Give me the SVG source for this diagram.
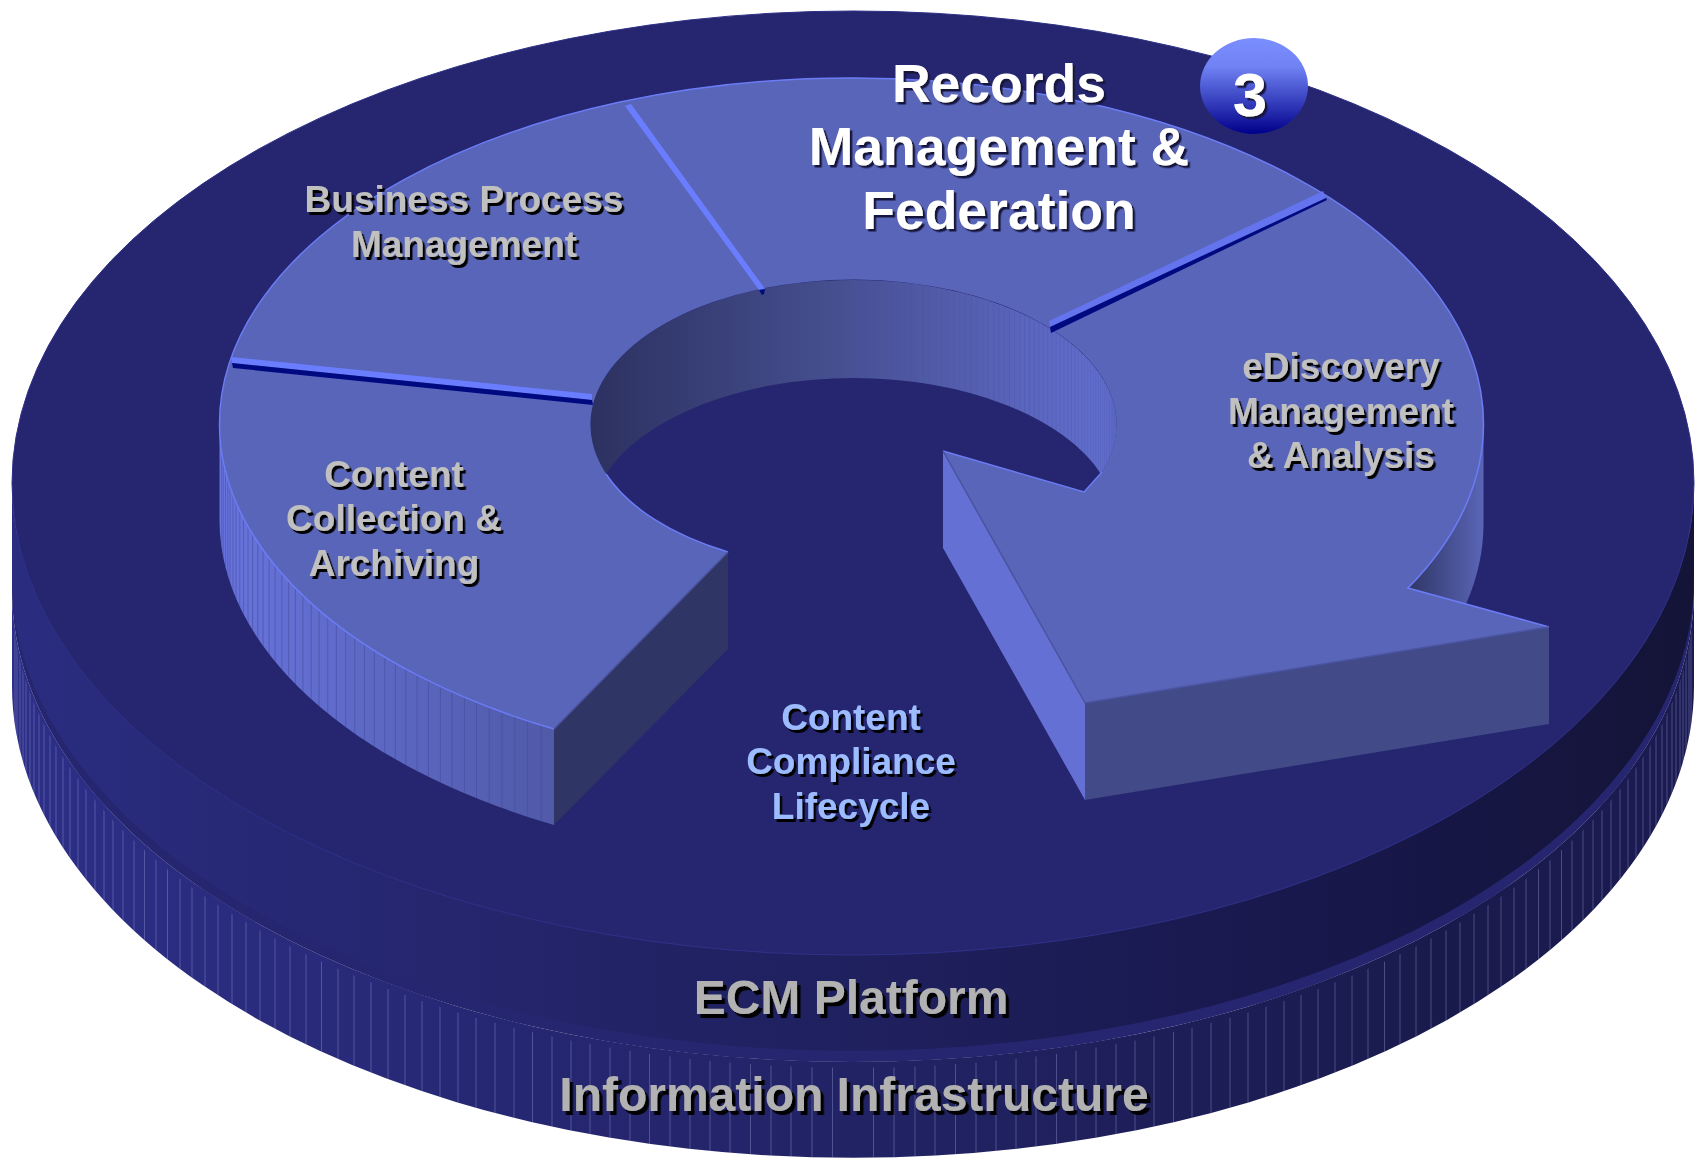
<svg xmlns="http://www.w3.org/2000/svg" xmlns:xlink="http://www.w3.org/1999/xlink" width="1704" height="1158" viewBox="0 0 1704 1158">
<style>
text{font-family:"Liberation Sans",Arial,sans-serif;font-weight:700;text-anchor:middle}
.g{fill:#c0c0c0;font-size:37px;filter:url(#sh)}
.b{fill:#9dbcff;font-size:37px;filter:url(#sh)}
.w{fill:#fff;font-size:53.500px;filter:url(#shw)}
.p{fill:#b2b2b2;font-size:48px;filter:url(#shb)}
.face{fill:#5965b8}
.tick{fill:none;stroke-width:1;vector-effect:non-scaling-stroke}
</style>
<defs>
<filter id="sh" x="-10%" y="-20%" width="120%" height="140%"><feDropShadow dx="2.5" dy="3" stdDeviation="0.5" flood-color="#000"/></filter>
<filter id="shw" x="-10%" y="-20%" width="120%" height="140%"><feDropShadow dx="2.5" dy="2.5" stdDeviation="0.6" flood-color="#14163c"/></filter>
<filter id="shb" x="-10%" y="-20%" width="120%" height="140%"><feDropShadow dx="3.5" dy="4" stdDeviation="0.5" flood-color="#000"/></filter>
<linearGradient id="lowerSide" gradientUnits="userSpaceOnUse" x1="12" y1="0" x2="1694" y2="0"><stop offset="0" stop-color="#2d2f88"/><stop offset=".3" stop-color="#262772"/><stop offset=".55" stop-color="#212262"/><stop offset=".85" stop-color="#191a4c"/><stop offset="1" stop-color="#1b1b52"/></linearGradient>
<linearGradient id="upperSide" gradientUnits="userSpaceOnUse" x1="12" y1="0" x2="1694" y2="0"><stop offset="0" stop-color="#2a2c80"/><stop offset=".25" stop-color="#25266e"/><stop offset=".5" stop-color="#1f205e"/><stop offset=".8" stop-color="#17174a"/><stop offset="1" stop-color="#141438"/></linearGradient>
<linearGradient id="holeWall" gradientUnits="userSpaceOnUse" x1="590" y1="0" x2="1116" y2="0"><stop offset="0" stop-color="#2c3160"/><stop offset=".45" stop-color="#454e8e"/><stop offset="1" stop-color="#6470d2"/></linearGradient>
<linearGradient id="leftWall" gradientUnits="userSpaceOnUse" x1="219" y1="0" x2="554" y2="0"><stop offset="0" stop-color="#6874dc"/><stop offset="1" stop-color="#505aa8"/></linearGradient>
<linearGradient id="rightWall" gradientUnits="userSpaceOnUse" x1="1408" y1="0" x2="1483" y2="0"><stop offset="0" stop-color="#2f3666"/><stop offset="1" stop-color="#5a65b6"/></linearGradient>
<linearGradient id="badge" x1="0" y1="0" x2="0" y2="1"><stop offset="0" stop-color="#7b8eff"/><stop offset=".3" stop-color="#7082f4"/><stop offset="1" stop-color="#00008a"/></linearGradient>
<clipPath id="lowerClip"><path d="M12 596A841 472 0 0 0 1694 596V686A841 472 0 0 1 12 686Z"/></clipPath>
<clipPath id="leftWallClip"><path d="M219.500 424A632 346 0 0 0 554 729V825A632 346 0 0 1 219.500 520Z"/></clipPath>
<clipPath id="holeClip"><path d="M606 474A263 145 0 1 1 1101 474A263 145 0 0 0 606 474Z"/></clipPath>
<path id="ticks" d="M20.5 0V1158M41 0V1158M62 0V1158M82 0V1158M102.5 0V1158M123 0V1158M143 0V1158M163 0V1158M183 0V1158M203.5 0V1158M223 0V1158M243 0V1158M263 0V1158M282 0V1158M301 0V1158M320.5 0V1158M339 0V1158M358 0V1158M377 0V1158M395 0V1158M413 0V1158M431 0V1158M448 0V1158M465 0V1158M482 0V1158M499 0V1158M515 0V1158M531.5 0V1158M547 0V1158M563 0V1158M578 0V1158M593 0V1158M607 0V1158M621 0V1158M635 0V1158M648 0V1158M661 0V1158M673 0V1158M685.5 0V1158M697 0V1158M708.5 0V1158M719 0V1158M730 0V1158M740 0V1158M749 0V1158M758 0V1158M767 0V1158M775 0V1158M783 0V1158M790 0V1158M797 0V1158M803 0V1158M809 0V1158M814 0V1158M819 0V1158M823 0V1158M827 0V1158M830 0V1158M833 0V1158M836 0V1158M838 0V1158"/>
</defs>

<g id="infrastructure-disc">
<path d="M12 590A841 472 0 0 0 1694 590V686A841 472 0 0 1 12 686Z" fill="url(#lowerSide)"/>
<g clip-path="url(#lowerClip)" class="tick" stroke="#9a9dd6" stroke-opacity=".38">
<use xlink:href="#ticks" href="#ticks" transform="translate(853 0)"/>
<use xlink:href="#ticks" href="#ticks" transform="translate(853 0) scale(-1 1)"/>
</g>
<ellipse cx="853" cy="590" rx="841" ry="472" fill="#25266f"/>
</g>

<g id="platform-disc">
<path d="M12 483A841 472 0 0 0 1694 483V579A841 472 0 0 1 12 579Z" fill="url(#upperSide)"/>
<ellipse cx="853" cy="483" rx="841" ry="472" fill="#25266f" stroke="#2f3188" stroke-width="1"/>
</g>

<g id="ring-hole">
<path d="M606 474A263 145 0 1 1 1101 474A263 145 0 0 0 606 474Z" fill="url(#holeWall)"/>
<g clip-path="url(#holeClip)" class="tick" stroke="#4a55a8" stroke-opacity=".5">
<use xlink:href="#ticks" href="#ticks" transform="translate(853.500 0) scale(.3127 1)"/>
</g>
</g>

<g id="ring-walls">
<path d="M219.500 424A632 346 0 0 0 554 729V825A632 346 0 0 1 219.500 520Z" fill="url(#leftWall)"/>
<g clip-path="url(#leftWallClip)" class="tick" stroke="#3f4896" stroke-opacity=".55">
<use xlink:href="#ticks" href="#ticks" transform="translate(851.500 0) scale(-.7515 1)"/>
</g>
<path d="M554 729L728 552V649L554 825Z" fill="#2f3564"/>
<path d="M1483.500 424V520A632 346 0 0 1 1466 604L1408 588Z" fill="url(#rightWall)"/>
<path d="M943 451L1085 703V800L943 548Z" fill="#6470d4"/>
<path d="M1085 703L1549 627V724L1085 800Z" fill="#424a88"/>
</g>

<g id="ring-face">
<path class="face" d="M554 729A632 346 0 1 1 1408 588L1549 627L1085 703L943 451L1084 492L1102 472A263 145 0 1 0 728 552Z"/>
<path d="M554 729A632 346 0 0 1 219.500 424M219.500 424A632 346 0 0 1 1483.500 424M1483.500 424A632 346 0 0 1 1408 588L1549 627M943 451L1084 492L1102 472M606 474A263 145 0 0 0 728 552" fill="none" stroke="#6b7cf5" stroke-width="1.500"/>
<path d="M554 729L728 552M1549 627L1085 703L943 451" fill="none" stroke="#4a54a0" stroke-width="1.500"/>
</g>

<g id="connectors">
<polygon points="625,106 631,104 765,289 759,290" fill="#6b7dff"/>
<polygon points="759,290 765,289 764,294 762,295" fill="#000a80"/>
<polygon points="1323,191 1326,198 1050,327 1049,321" fill="#6474ee"/>
<polygon points="1326,198 1327,200 1051,333 1050,327" fill="#000a80"/>
<polygon points="231,357 592,394 592,400 232,363" fill="#6b7dff"/>
<polygon points="232,363 592,400 593,405 233,368" fill="#000a80"/>
</g>

<g id="records"><text class="w" x="999" y="102">Records</text><text class="w" x="999" y="165">Management &amp;</text><text class="w" x="999" y="229">Federation</text></g>
<g id="bpm"><text class="g" x="464" y="212">Business Process</text><text class="g" x="464" y="257">Management</text></g>
<g id="collection"><text class="g" x="394" y="487">Content</text><text class="g" x="394" y="531">Collection &amp;</text><text class="g" x="394" y="576">Archiving</text></g>
<g id="ediscovery"><text class="g" x="1341" y="379">eDiscovery</text><text class="g" x="1341" y="424">Management</text><text class="g" x="1341" y="468">&amp; Analysis</text></g>
<g id="compliance"><text class="b" x="851" y="730">Content</text><text class="b" x="851" y="774">Compliance</text><text class="b" x="851" y="819">Lifecycle</text></g>
<g id="ecm"><text class="p" x="851" y="1014">ECM Platform</text></g>
<g id="infra"><text class="p" x="854" y="1111">Information Infrastructure</text></g>
<g id="badge-3"><ellipse cx="1254" cy="86" rx="54" ry="48" fill="url(#badge)"/><text x="1250" y="116" style="font-size:62px;fill:#fff;filter:url(#shw)">3</text></g>
</svg>
